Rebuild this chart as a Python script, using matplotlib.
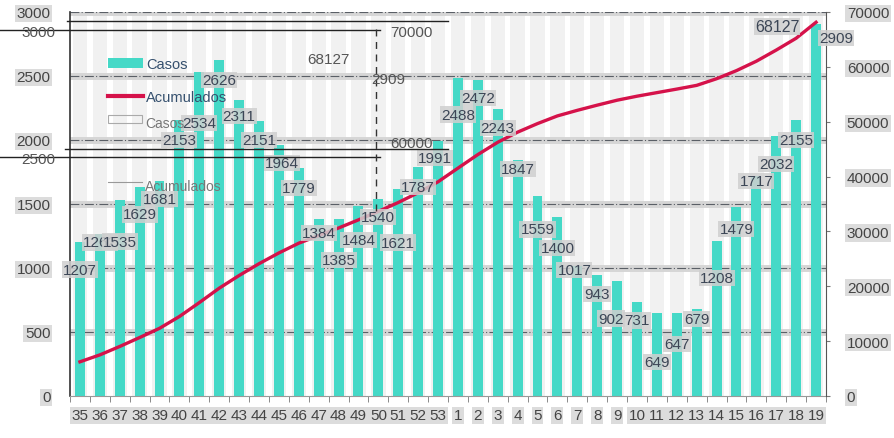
import matplotlib.pyplot as plt
import numpy as np
from matplotlib.patches import Patch
from matplotlib.lines import Line2D

plt.rcParams['font.family'] = ['Liberation Sans', 'DejaVu Sans']

semanas = ['35', '36', '37', '38', '39', '40', '41', '42', '43', '44', '45', '46', '47', '48', '49',
           '50', '51', '52', '53', '1', '2', '3', '4', '5', '6', '7', '8', '9', '10', '11', '12',
           '13', '14', '15', '16', '17', '18', '19']

casos = [1207, 1262, 1535, 1629, 1681, 2153, 2534, 2626, 2311, 2151, 1964, 1779, 1384, 1385, 1484,
         1540, 1621, 1787, 1991, 2488, 2472, 2243, 1847, 1559, 1400, 1017, 943, 902, 731, 649, 647,
         679, 1208, 1479, 1717, 2032, 2155, 2909]

acumulados = [6233, 7495, 9030, 10659, 12340, 14493, 17027, 19653, 21964, 24115, 26079, 27858,
              29242, 30627, 32111, 33651, 35272, 37059, 39050, 41538, 44010, 46253, 48100, 49659,
              51059, 52076, 53019, 53921, 54652, 55301, 55948, 56627, 57835, 59314, 61031, 63063,
              65218, 68127]

# label offsets (pixels) relative to the top of each bar
label_dx = [0, 0, 0, 0, 0, 0, 0, 0, 0, 0, 3, 0, 0, 0, 0, 0, 0, 0, -3, 0, 0, 0, 0, 0, 0, -3, 0,
            -6, 0, 0, 0, 0, 0, 0, 0, 0, 0, 20]
label_dy = [-28, -8, -42, -27, -18, -20, -51, -20, -16, -19, -18, -20, -14, -41, -34, -18, -54,
            -20, -17, -37, -18, -19, -9, -33, -31, -4, -19, -38, -18, -49, -31, -10, -37, -22,
            -5, -28, -20, -14]

TEAL = '#45d9c7'
RED = '#d5124a'
TXT = '#3c4656'

fig = plt.figure(figsize=(8.95, 4.39), dpi=100)
ax = fig.add_axes([70/895, 42/439, 756/895, 384/439])
x = np.arange(len(semanas))

# light grey strips behind the bars
for xi in x:
    ax.axvspan(xi - 0.36, xi + 0.36, color='#f1f1f1', zorder=0, lw=0)

# grid drawn as grey bands with a dash-dot line
for v in [500, 1000, 1500, 2000, 2500, 3000]:
    ax.axhline(v, color='#d6d6d6', lw=5, zorder=1)
    ax.axhline(v, color='#5a5f66', lw=0.8, ls=(0, (8, 2, 1, 2)), zorder=1.5)

ax.bar(x, casos, width=0.5, color=TEAL, zorder=2)

ax.set_xlim(-0.5, len(x) - 0.5)
ax.set_ylim(0, 3000)
ax.set_yticks([0, 500, 1000, 1500, 2000, 2500, 3000])
ax.set_xticks(x)
ax.set_xticklabels(semanas)
ax.set_xticks(np.arange(-0.5, len(x)), minor=True)
ax.tick_params(axis='x', which='major', length=0, pad=9, labelsize=11, labelcolor='#444444')
ax.tick_params(axis='x', which='minor', length=4, color='#777777')
ax.tick_params(axis='y', length=0, pad=14, labelsize=11, labelcolor='#444444')
for t in ax.get_xticklabels() + ax.get_yticklabels():
    t.set_bbox(dict(facecolor='#dcdcdc', edgecolor='none', pad=1.2))
ax.spines['top'].set_visible(False)
ax.spines['left'].set_color('#333333')
ax.spines['left'].set_linewidth(1.2)
ax.spines['bottom'].set_color('#999999')
ax.spines['right'].set_visible(False)

ax2 = ax.twinx()
ax2.plot(x, acumulados, color=RED, lw=2.4, zorder=3)
ax2.set_ylim(0, 70000)
ax2.set_yticks([0, 10000, 20000, 30000, 40000, 50000, 60000, 70000])
ax2.tick_params(axis='y', length=3, pad=12, labelsize=11, labelcolor='#444444', color='#777777')
for t in ax2.get_yticklabels():
    t.set_bbox(dict(facecolor='#dcdcdc', edgecolor='none', pad=1.2))
for s in ['top', 'left', 'bottom']:
    ax2.spines[s].set_visible(False)
ax2.spines['right'].set_color('#555555')

for xi, v, dx, dy in zip(x, casos, label_dx, label_dy):
    ax2.annotate(str(v), xy=(xi, v), xycoords=ax.transData, textcoords='offset pixels',
                 xytext=(dx, dy), ha='center', va='center', fontsize=11, color=TXT, zorder=5,
                 bbox=dict(facecolor='#cfcfcf', edgecolor='none', pad=0.8, alpha=0.85))

ax2.annotate(str(acumulados[-1]), xy=(x[-1], acumulados[-1]), textcoords='offset pixels',
             xytext=(-39, -4), ha='center', va='center', fontsize=11.5, color=TXT, zorder=5,
             bbox=dict(facecolor='#cfcfcf', edgecolor='none', pad=0.8, alpha=0.85))

handles = [Patch(facecolor=TEAL, edgecolor='none'), Line2D([], [], color=RED, lw=3)]
leg = fig.legend(handles, ['Casos', 'Acumulados'], loc='upper left',
                 bbox_to_anchor=(95/895, 1 - 45/439), frameon=False, fontsize=10.5,
                 handlelength=2.4, labelspacing=1.3, handletextpad=0.2)
for t in leg.get_texts():
    t.set_color('#35506e')

# ghost remnants visible in the source image
ov = fig.add_axes([0, 0, 1, 1], zorder=10)
ov.set_xlim(0, 895)
ov.set_ylim(439, 0)
ov.axis('off')
for y0, x0, x1 in [(22, 67, 448), (31, 0, 380), (150, 65, 448), (158, 0, 380)]:
    ov.plot([x0, x1], [y0, y0], color='#222222', lw=1)
ov.plot([376, 376], [30, 215], color='#333333', lw=1, ls=(0, (5, 4)))
ghost = dict(color='#555555', fontsize=11, ha='right', va='center')
ov.text(55, 33, '3000', **ghost)
ov.text(55, 160, '2500', **ghost)
ov.text(433, 33, '70000', **ghost)
ov.text(433, 144, '60000', **ghost)
ov.text(350, 60, '68127', **ghost)
ov.text(405, 80, '2909', **ghost)
ov.text(145, 124, 'Casos', color='#777777', fontsize=10, va='center')
ov.text(145, 187, 'Acumulados', color='#777777', fontsize=10, va='center')
ov.add_patch(plt.Rectangle((108, 116), 34, 8, fill=False, ec='#aaaaaa', lw=0.8))
ov.plot([108, 142], [183, 183], color='#999999', lw=0.8)

fig.savefig('out.png', dpi=100)
